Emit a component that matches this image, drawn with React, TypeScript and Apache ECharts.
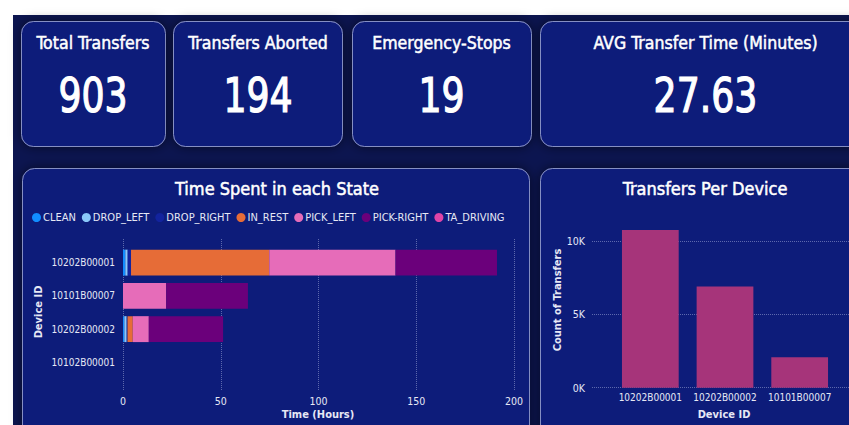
import React, { useEffect, useRef } from "react";
import * as echarts from "echarts";

// ---------- DATA ----------
const kpiTitles = ["Total Transfers", "Transfers Aborted", "Emergency-Stops", "AVG Transfer Time (Minutes)"];
const kpiValues = ["903", "194", "19", "27.63"];

const stateDevices = ["10202B00001", "10101B00007", "10202B00002", "10102B00001"];
const stateNames = ["CLEAN", "DROP_LEFT", "DROP_RIGHT", "IN_REST", "PICK_LEFT", "PICK-RIGHT", "TA_DRIVING"];
const cleanHours = [1.2, null, 0.7, null];
const dropLeftHours = [1.2, null, 1.2, null];
const dropRightHours = [1.7, null, 0.4, null];
const inRestHours = [70.7, null, 2.7, null];
const pickLeftHours = [64.6, 22.1, 8.2, null];
const pickRightHours = [51.9, 41.8, 38.0, null];
const taDrivingHours = [null, null, null, null];
const stateSeries = [cleanHours, dropLeftHours, dropRightHours, inRestHours, pickLeftHours, pickRightHours, taDrivingHours];

const transferDevices = ["10202B00001", "10202B00002", "10101B00007"];
const transferCounts = [10750, 6900, 2070];

// ---------- STYLE ----------
const FONT = '"DejaVu Sans Condensed", "Noto Sans", sans-serif';
const stateColors = ["#118DFF", "#8AC8FA", "#12239E", "#E66C37", "#E66CB9", "#6B007B", "#E044A7"];
const BG = "#0c1550";
const CARD = "#111b7a";
const CARD_BORDER = "rgba(170,180,225,0.75)";
const TXT = "#ffffff";
const LABEL = "#e6e8f5";
const GRIDLINE = "rgba(160,170,215,0.55)";

const kpiCards = [
  { x: 21, w: 144, cx: 93 },
  { x: 173, w: 169, cx: 258 },
  { x: 352, w: 179, cx: 441.5 },
  { x: 540, w: 330, cx: 705.5 },
];

export default function App() {
  const ref = useRef<HTMLDivElement>(null);

  useEffect(() => {
    if (!ref.current) return;
    const chart = echarts.init(ref.current, undefined, { renderer: "svg" });

    const cardStyle = {
      fill: CARD,
      stroke: CARD_BORDER,
      lineWidth: 1,
      shadowBlur: 12,
      shadowColor: "rgba(0,0,20,0.55)",
    };
    const graphics: any[] = [
      { type: "rect", z: -20, shape: { x: 0, y: 0, width: 849, height: 425 }, style: { fill: "#ffffff" } },
      { type: "rect", z: -19, shape: { x: 13, y: 15, width: 840, height: 415 }, style: { fill: BG } },
    ];
    kpiCards.forEach((c, i) => {
      graphics.push({
        type: "rect",
        z: -10,
        shape: { x: c.x + 0.5, y: 21.5, width: c.w, height: 125, r: 12 },
        style: cardStyle,
      });
      graphics.push({
        type: "text",
        z: 10,
        x: c.cx,
        y: 42,
        scaleX: 0.95,
        style: {
          text: kpiTitles[i],
          fill: TXT,
          stroke: TXT,
          lineWidth: 0.5,
          font: `500 18.5px ${FONT}`,
          align: "center",
          verticalAlign: "middle",
        },
      });
      graphics.push({
        type: "text",
        z: 10,
        x: c.cx,
        y: 95,
        scaleX: 0.84,
        style: {
          text: kpiValues[i],
          fill: TXT,
          stroke: TXT,
          lineWidth: 1.2,
          font: `500 48px ${FONT}`,
          align: "center",
          verticalAlign: "middle",
        },
      });
    });
    // panels
    graphics.push({
      type: "rect",
      z: -10,
      shape: { x: 22.5, y: 168.5, width: 507, height: 290, r: 12 },
      style: cardStyle,
    });
    graphics.push({
      type: "rect",
      z: -10,
      shape: { x: 540.5, y: 168.5, width: 330, height: 290, r: 12 },
      style: cardStyle,
    });
    const t = (text: string, x: number, y: number, size: number, weight: string, rot = 0, color = TXT, lw = 0) => ({
      type: "text",
      z: 10,
      x,
      y,
      rotation: rot,
      style: {
        text,
        fill: color,
        stroke: lw ? color : undefined,
        lineWidth: lw,
        font: `${weight} ${size}px ${FONT}`,
        align: "center",
        verticalAlign: "middle",
      },
    });
    graphics.push(t("Time Spent in each State", 277, 188, 18, "500", 0, TXT, 0.5));
    graphics.push(t("Transfers Per Device", 705, 188, 18, "500", 0, TXT, 0.5));
    graphics.push(t("Device ID", 38, 312, 11, "bold", Math.PI / 2, LABEL));
    graphics.push(t("Time (Hours)", 318, 414, 11, "bold", 0, LABEL));
    graphics.push(t("Count of Transfers", 557, 300, 11, "bold", Math.PI / 2, LABEL));
    graphics.push(t("Device ID", 724, 414, 11, "bold", 0, LABEL));

    const axisLabel = { color: LABEL, fontSize: 10, fontFamily: FONT };
    const split = { show: true, lineStyle: { color: GRIDLINE, type: "dotted", width: 1 } };

    const option: any = {
      animation: false,
      backgroundColor: "transparent",
      textStyle: { fontFamily: FONT },
      graphic: { elements: graphics },
      legend: {
        data: stateNames,
        left: 32,
        top: 212,
        padding: 0,
        icon: "circle",
        itemWidth: 9,
        itemHeight: 9,
        itemGap: 6,
        textStyle: { color: LABEL, fontSize: 11, fontFamily: FONT, padding: [0, 0, 0, -3] },
        selectedMode: false,
      },
      grid: [
        { left: 123, right: 335, top: 246, height: 133 },
        { left: 123, right: 335, top: 239, bottom: 34 },
        { left: 592, right: 0, top: 241, bottom: 37.3 },
        { left: 613, right: 12, top: 241, bottom: 37.3 },
      ],
      xAxis: [
        { type: "value", gridIndex: 0, min: 0, max: 200, interval: 50, show: false },
        {
          type: "value",
          gridIndex: 1,
          min: 0,
          max: 200,
          interval: 50,
          axisLine: { show: false },
          axisTick: { show: false },
          axisLabel: { ...axisLabel, fontSize: 10.5, margin: 4 },
          splitLine: split,
        },
        { type: "value", gridIndex: 2, show: false },
        {
          type: "category",
          gridIndex: 3,
          data: transferDevices,
          axisLine: { show: false },
          axisTick: { show: false },
          axisLabel: { ...axisLabel, margin: 5, interval: 0 },
        },
      ],
      yAxis: [
        {
          type: "category",
          gridIndex: 0,
          inverse: true,
          data: stateDevices,
          axisLine: { show: false },
          axisTick: { show: false },
          axisLabel: { ...axisLabel, margin: 8, interval: 0 },
        },
        { type: "value", gridIndex: 1, show: false },
        {
          type: "value",
          gridIndex: 2,
          min: 0,
          max: 10000,
          interval: 5000,
          axisLine: { show: false },
          axisTick: { show: false },
          axisLabel: { ...axisLabel, fontSize: 10.5, margin: 7, formatter: (v: number) => `${v / 1000}K` },
          splitLine: split,
        },
        { type: "value", gridIndex: 3, min: 0, max: 10000, show: false },
      ],
      series: [
        ...stateNames.map((name, i) => ({
          name,
          type: "bar",
          stack: "time",
          xAxisIndex: 0,
          yAxisIndex: 0,
          barCategoryGap: "22%",
          itemStyle: { color: stateColors[i] },
          data: stateSeries[i],
        })),
        {
          name: "Count of Transfers",
          type: "bar",
          xAxisIndex: 3,
          yAxisIndex: 3,
          barCategoryGap: "24%",
          clip: false,
          itemStyle: { color: "#A6347A" },
          data: transferCounts,
        },
      ],
    };
    chart.setOption(option);
    return () => chart.dispose();
  }, []);

  return <div ref={ref} style={{ position: "absolute", left: 0, top: 0, width: 849, height: 425 }} />;
}
